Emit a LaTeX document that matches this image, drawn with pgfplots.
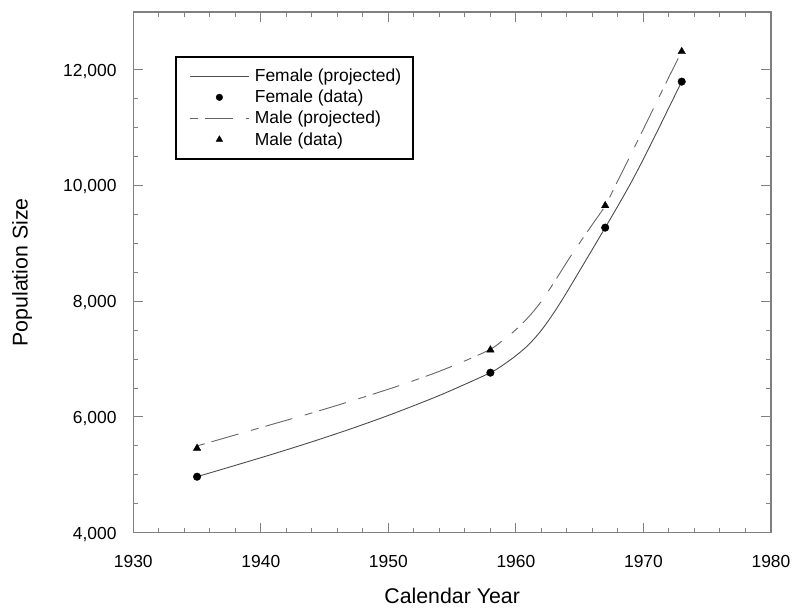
\documentclass[border=0pt]{standalone}
\usepackage{pgfplots}
\usepackage{pgfplotstable}
\pgfplotsset{compat=1.18}
\usepackage{fontspec}
\setmainfont{Liberation Sans}

\pgfplotsset{
  lineleg/.style={legend image code/.code={\path[draw=none] (0bp,0bp) -- (67bp,0bp); \draw[##1] (4bp,0bp) -- (63bp,0bp);}},
  markleg/.style={legend image code/.code={\path[draw=none] (0bp,0bp) -- (67bp,0bp); \path[draw=none, ##1, mark size=#1] plot coordinates {(33.5bp,0bp)};}},
}

\pgfplotstableread{
year pop
1935 4968
1938 5164
1941 5363
1944 5571
1947 5791
1950 6027
1953 6283
1955 6467
1958 6766
1959 6900
1960 7060
1961 7250
1962 7500
1963 7810
1964 8160
1965 8530
1966 8900
1967 9273
1968 9650
1969 10040
1970 10460
1971 10900
1972 11350
1973 11797
}\femproj

\pgfplotstableread{
year pop
1935 4968
1958 6766
1967 9273
1973 11797
}\femdata

\pgfplotstableread{
year pop
1935 5500
1938 5690
1941 5880
1944 6070
1947 6270
1950 6480
1952 6630
1954 6790
1956 6970
1958 7170
1959 7330
1960 7510
1961 7730
1962 8000
1963 8330
1964 8680
1965 9010
1966 9330
1967 9653
1968 10090
1969 10530
1970 10980
1971 11430
1972 11880
1973 12316
}\maleproj

\pgfplotstableread{
year pop
1935 5459
1958 7159
1967 9653
1973 12316
}\maledata

\begin{document}
\begin{tikzpicture}
\begin{axis}[
  scale only axis, width=637.7bp, height=520.7bp,
  xmin=1930, xmax=1980, ymin=4000, ymax=13000,
  xtick={1930,1940,...,1980}, ytick={4000,6000,...,12000},
  scaled y ticks=false, scaled x ticks=false,
  minor x tick num=4, minor y tick num=3,
  tick align=inside,
  major tick length=10bp, minor tick length=5bp,
  axis line style={draw=gray, line width=1.2bp},
  tick style={gray, line width=1bp},
  /pgf/number format/assume math mode=true,
  x tick label style={/pgf/number format/set thousands separator={}, font=\fontsize{17.5}{18}\selectfont, anchor=base, yshift=-34.3bp},
  y tick label style={/pgf/number format/set thousands separator={,}, font=\fontsize{17.5}{18}\selectfont, anchor=base east, inner sep=0pt, xshift=-16.6bp, yshift=-6.3bp},
  xlabel={Calendar Year}, ylabel={Population Size},
  label style={font=\fontsize{21.4}{24}\selectfont},
  xlabel style={at={(axis description cs:0.5,0)}, anchor=base, yshift=-70.3bp},
  ylabel style={at={(axis description cs:-0.1656,0.5)}, anchor=base, rotate=0},
  legend cell align=left,
  legend style={at={(0.0654,0.916)}, anchor=north west, draw=black, line width=1.8bp,
    font=\fontsize{17.5}{20}\selectfont, inner xsep=10bp, inner ysep=10.5bp, row sep=3bp},
]
\addplot[draw=black!70, line width=0.9bp, smooth, no marks, lineleg]
  table[x=year,y=pop] {\femproj};
\addlegendentry{Female (projected)}
\addplot[only marks, mark=*, mark size=3.8bp, mark options={fill=black, draw=black, line width=0.4bp}, markleg=3.3bp]
  table[x=year,y=pop] {\femdata};
\addlegendentry{Female (data)}
\addplot[draw=black!60, line width=0.9bp, smooth, no marks, dash pattern=on 8bp off 7bp on 28bp off 13bp, lineleg]
  table[x=year,y=pop] {\maleproj};
\addlegendentry{Male (projected)}
\addplot[only marks, mark=triangle*, mark size=4.3bp, mark options={fill=black, draw=black, line width=0.4bp}, markleg=3.8bp]
  table[x=year,y=pop] {\maledata};
\addlegendentry{Male (data)}
\end{axis}
\pgfresetboundingbox
\path (-133.3bp,-83.3bp) rectangle (666.7bp,532.7bp);
\end{tikzpicture}
\end{document}
